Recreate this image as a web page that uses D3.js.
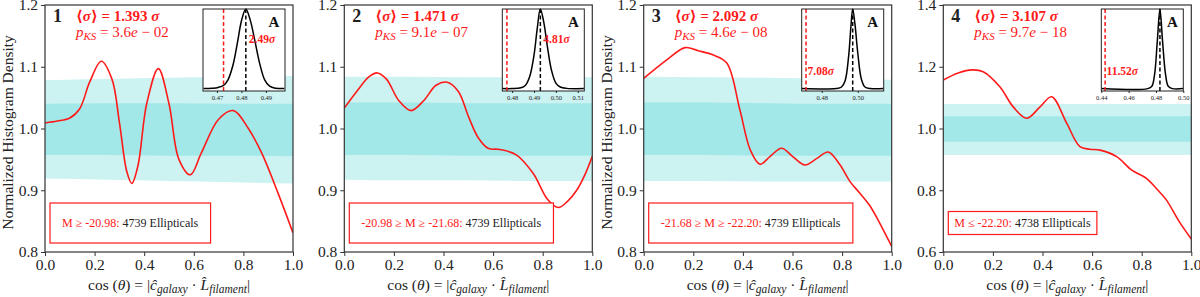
<!DOCTYPE html>
<html>
<head>
<meta charset="utf-8">
<script src="https://cdn.jsdelivr.net/npm/d3@7"></script>
<style>
  body { margin: 0; background: #fff; }
</style>
</head>
<body>
<div id="chart"></div>
<script>
// --- data ---
const panelIds = ["1", "2", "3", "4"];
const meanSigma = ["1.393", "1.471", "2.092", "3.107"];
const pMant = ["3.6", "9.1", "4.6", "9.7"];
const pExp = ["02", "07", "08", "18"];
const magLabels = ["M ≥ -20.98:", "-20.98 ≥ M ≥ -21.68:", "-21.68 ≥ M ≥ -22.20:", "M ≤ -22.20:"];
const counts = [4739, 4739, 4739, 4738];

const xTicks = [0, 0.2, 0.4, 0.6, 0.8, 1.0];
const yDomains = [[0.8, 1.2], [0.8, 1.2], [0.8, 1.2], [0.6, 1.4]];
const yTicks = [
  [0.8, 0.9, 1.0, 1.1, 1.2],
  [0.8, 0.9, 1.0, 1.1, 1.2],
  [0.8, 0.9, 1.0, 1.1, 1.2],
  [0.6, 0.8, 1.0, 1.2, 1.4]
];

// [cos theta, density]
const curve1 = [[0, 1.009], [0.05, 1.012], [0.1, 1.017], [0.14, 1.032], [0.18, 1.075], [0.227, 1.109], [0.27, 1.08],
  [0.30, 1.01], [0.33, 0.93], [0.35, 0.911], [0.375, 0.94], [0.41, 1.04], [0.457, 1.097], [0.50, 1.04], [0.54, 0.95],
  [0.586, 0.925], [0.63, 0.96], [0.70, 1.015], [0.76, 1.029], [0.82, 1.0], [0.874, 0.96], [0.94, 0.895], [1.0, 0.831]];
const curve2 = [[0, 1.033], [0.05, 1.06], [0.1, 1.084], [0.133, 1.09], [0.17, 1.08], [0.22, 1.045], [0.269, 1.029],
  [0.32, 1.045], [0.37, 1.07], [0.415, 1.075], [0.46, 1.06], [0.50, 1.02], [0.54, 0.985], [0.58, 0.968], [0.628, 0.966],
  [0.695, 0.957], [0.762, 0.927], [0.82, 0.885], [0.863, 0.872], [0.90, 0.882], [0.937, 0.90], [0.97, 0.925], [1.0, 0.955]];
const curve3 = [[0, 1.081], [0.093, 1.111], [0.167, 1.131], [0.22, 1.126], [0.281, 1.119], [0.335, 1.106], [0.388, 1.03],
  [0.43, 0.965], [0.469, 0.942], [0.51, 0.955], [0.556, 0.968], [0.60, 0.955], [0.65, 0.941], [0.70, 0.952], [0.744, 0.962],
  [0.79, 0.942], [0.832, 0.914], [0.87, 0.896], [0.91, 0.876], [0.95, 0.848], [1.0, 0.809]];
const curve4 = [[0, 1.157], [0.06, 1.18], [0.118, 1.19], [0.161, 1.184], [0.228, 1.135], [0.282, 1.07], [0.336, 1.033],
  [0.39, 1.07], [0.437, 1.103], [0.497, 1.018], [0.551, 0.941], [0.59, 0.933], [0.632, 0.93], [0.699, 0.909], [0.76, 0.865],
  [0.82, 0.838], [0.86, 0.805], [0.9, 0.768], [0.95, 0.70], [1.0, 0.642]];
const curves = [curve1, curve2, curve3, curve4];

// shaded bands (1 and 2 sigma) at these x positions
const bandX = [0, 0.25, 0.5, 0.75, 1.0];
const lightTop = [[1.078, 1.08, 1.082, 1.084, 1.085], [1.084, 1.084, 1.083, 1.083, 1.083], [1.084, 1.083, 1.082, 1.08, 1.079], [1.079, 1.079, 1.079, 1.079, 1.079]];
const darkTop = [[1.040, 1.041, 1.041, 1.040, 1.040], [1.042, 1.042, 1.041, 1.041, 1.041], [1.042, 1.042, 1.041, 1.040, 1.040], [1.040, 1.040, 1.040, 1.040, 1.040]];
const darkBot = [[0.957, 0.957, 0.956, 0.956, 0.955], [0.957, 0.957, 0.956, 0.956, 0.956], [0.957, 0.957, 0.956, 0.956, 0.956], [0.957, 0.957, 0.957, 0.957, 0.957]];
const lightBot = [[0.919, 0.917, 0.915, 0.913, 0.911], [0.917, 0.916, 0.916, 0.915, 0.915], [0.915, 0.915, 0.914, 0.914, 0.914], [0.914, 0.914, 0.914, 0.914, 0.914]];

// insets
const insetSigma = ["2.49", "4.81", "7.08", "11.52"];
const insetMean = [0.4818, 0.4929, 0.4972, 0.4829];
const insetObs = [0.4727, 0.4776, 0.4713, 0.4428];
const insetDomains = [[0.4643, 0.4978], [0.4755, 0.513], [0.4689, 0.5144], [0.44, 0.50]];
const insetTicks = [[0.47, 0.48, 0.49], [0.48, 0.49, 0.50, 0.51], [0.48, 0.50], [0.44, 0.46, 0.48, 0.50]];
const inset1 = [[0.4645, 0], [0.468, 0.005], [0.4705, 0.015], [0.4727, 0.04], [0.4745, 0.11], [0.4765, 0.29], [0.4785, 0.6],
  [0.480, 0.85], [0.4818, 1.0], [0.4836, 0.86], [0.4855, 0.6], [0.4875, 0.31], [0.4895, 0.11], [0.4915, 0.03], [0.494, 0.005], [0.4975, 0]];
const inset2 = [[0.4755, 0], [0.480, 0], [0.484, 0.01], [0.486, 0.04], [0.488, 0.15], [0.490, 0.42], [0.4915, 0.76],
  [0.4929, 1.0], [0.4945, 0.83], [0.496, 0.55], [0.498, 0.23], [0.500, 0.07], [0.502, 0.02], [0.505, 0.003], [0.5128, 0]];
const inset3 = [[0.469, 0], [0.488, 0], [0.491, 0.02], [0.493, 0.1], [0.495, 0.42], [0.4962, 0.78], [0.4972, 1.0],
  [0.4985, 0.8], [0.500, 0.45], [0.502, 0.12], [0.504, 0.02], [0.507, 0], [0.5142, 0]];
const inset4 = [[0.4402, 0], [0.474, 0], [0.477, 0.03], [0.479, 0.18], [0.481, 0.6], [0.4829, 1.0], [0.4848, 0.6],
  [0.487, 0.18], [0.489, 0.03], [0.492, 0], [0.4998, 0]];
const insetCurves = [inset1, inset2, inset3, inset4];

// --- layout ---
const W = 1200, H = 297;
const FONT = "'Liberation Serif', 'DejaVu Serif', 'Times New Roman', serif";
const plotW = 248, plotH = 247, plotTop = 5;
const lefts = [45, 344.3, 643.7, 943.3];
const sigLabelSide = ["right", "right", "left", "left"];
const legendPad = [[12, 13], [12, 13], [12, 13], [6, 4.5]];
const red = "#ff1a1a";
const lightCol = "#ccf2f2", darkCol = "#a3e8e8";

const svg = d3.select("#chart").append("svg")
  .attr("width", W).attr("height", H)
  .attr("font-family", FONT);

panelIds.forEach((id, i) => {
  const g = svg.append("g").attr("transform", `translate(${lefts[i]},${plotTop})`);
  const x = d3.scaleLinear().domain([0, 1]).range([0, plotW]);
  const y = d3.scaleLinear().domain(yDomains[i]).range([plotH, 0]);

  const clipId = "clip" + i;
  g.append("clipPath").attr("id", clipId).append("rect").attr("width", plotW).attr("height", plotH);
  const inner = g.append("g").attr("clip-path", `url(#${clipId})`);

  const bandRows = bandX.map((bx, k) => ({ x: bx, lt: lightTop[i][k], dt: darkTop[i][k], db: darkBot[i][k], lb: lightBot[i][k] }));
  const area = (a, b) => d3.area().x(d => x(d.x)).y0(d => y(d[a])).y1(d => y(d[b])).curve(d3.curveMonotoneX);
  inner.append("path").datum(bandRows).attr("d", area("lb", "lt")).attr("fill", lightCol);
  inner.append("path").datum(bandRows).attr("d", area("db", "dt")).attr("fill", darkCol);

  inner.append("path").datum(curves[i])
    .attr("d", d3.line().x(d => x(d[0])).y(d => y(d[1])).curve(d3.curveCatmullRom.alpha(0.5)))
    .attr("fill", "none").attr("stroke", red).attr("stroke-width", 1.6);

  // axes
  const xa = g.append("g").attr("transform", `translate(0,${plotH})`)
    .call(d3.axisBottom(x).tickValues(xTicks).tickFormat(d3.format(".1f")).tickSize(4).tickPadding(3));
  const ya = g.append("g")
    .call(d3.axisLeft(y).tickValues(yTicks[i]).tickFormat(d3.format(".1f")).tickSize(4).tickPadding(3));
  [xa, ya].forEach(a => {
    a.attr("font-family", FONT).attr("font-size", 15.5);
    a.select(".domain").remove();
    a.selectAll("line").attr("stroke", "#333");
    a.selectAll("text").attr("fill", "#222");
  });
  g.append("rect").attr("width", plotW).attr("height", plotH)
    .attr("fill", "none").attr("stroke", "#333").attr("stroke-width", 1.2);

  // x label
  const xl = g.append("text").attr("x", plotW / 2).attr("y", 285).attr("text-anchor", "middle")
    .attr("font-size", 15.5).attr("fill", "#222");
  xl.append("tspan").text("cos (");
  xl.append("tspan").attr("font-style", "italic").text("θ");
  xl.append("tspan").text(") = |");
  xl.append("tspan").attr("font-style", "italic").text("ĉ");
  xl.append("tspan").attr("font-style", "italic").attr("font-size", 11.5).attr("dy", 3).text("galaxy");
  xl.append("tspan").attr("dy", -3).text(" · ");
  xl.append("tspan").attr("font-style", "italic").text("L̂");
  xl.append("tspan").attr("font-style", "italic").attr("font-size", 11.5).attr("dy", 3).text("filament");
  xl.append("tspan").attr("dy", -3).text("|");

  if (i === 0 || i === 2) {
    g.append("text").attr("transform", `translate(${-32},${plotH / 2 + 4}) rotate(-90)`)
      .attr("text-anchor", "middle").attr("font-size", 15.5).attr("fill", "#222")
      .text("Normalized Histogram Density");
  }

  // panel number and statistics
  g.append("text").attr("x", 8).attr("y", 17).attr("font-size", 18).attr("font-weight", "bold")
    .attr("fill", "#222").text(id);
  const t1 = g.append("text").attr("x", 31).attr("y", 16).attr("font-size", 15).attr("font-weight", "bold").attr("fill", red);
  t1.append("tspan").text("⟨");
  t1.append("tspan").attr("font-style", "italic").text("σ");
  t1.append("tspan").text("⟩ = " + meanSigma[i] + " ");
  t1.append("tspan").attr("font-style", "italic").text("σ");
  const t2 = g.append("text").attr("x", 31).attr("y", 31.5).attr("font-size", 15).attr("fill", red);
  t2.append("tspan").attr("font-style", "italic").text("p");
  t2.append("tspan").attr("font-style", "italic").attr("font-size", 11).attr("dy", 3).text("KS");
  t2.append("tspan").attr("dy", -3).text(" = " + pMant[i]);
  t2.append("tspan").attr("font-style", "italic").text("e");
  t2.append("tspan").text(" − " + pExp[i]);

  // legend box
  const lg = g.append("g");
  const lt = lg.append("text").attr("x", 5 + legendPad[i][0]).attr("y", 222).attr("font-size", 12);
  lt.append("tspan").attr("fill", red).text(magLabels[i] + " ");
  lt.append("tspan").attr("fill", "#222").text(counts[i] + " Ellipticals");
  const bb = lt.node().getBBox();
  lg.insert("rect", "text")
    .attr("x", bb.x - legendPad[i][0]).attr("y", bb.y - legendPad[i][1])
    .attr("width", bb.width + 2 * legendPad[i][0]).attr("height", bb.height + 2 * legendPad[i][1])
    .attr("fill", "white").attr("stroke", red).attr("stroke-width", 1.2);

  // inset
  const iw = 82, ih = 82;
  const ig = g.append("g").attr("transform", `translate(${plotW - 90},4)`);
  const ix = d3.scaleLinear().domain(insetDomains[i]).range([0, iw]);
  const iy = d3.scaleLinear().domain([-0.03, 1.0]).range([ih, 0]);
  ig.append("rect").attr("width", iw).attr("height", ih).attr("fill", "white");
  ig.append("path").datum(insetCurves[i])
    .attr("d", d3.line().x(d => ix(d[0])).y(d => iy(d[1])).curve(d3.curveCatmullRom.alpha(0.5)))
    .attr("fill", "none").attr("stroke", "#000").attr("stroke-width", 1.5);
  ig.append("line").attr("x1", ix(insetMean[i])).attr("x2", ix(insetMean[i])).attr("y1", 0).attr("y2", ih)
    .attr("stroke", "#000").attr("stroke-width", 1.5).attr("stroke-dasharray", "4,2.5");
  ig.append("line").attr("x1", ix(insetObs[i])).attr("x2", ix(insetObs[i])).attr("y1", 0).attr("y2", ih)
    .attr("stroke", red).attr("stroke-width", 1.5).attr("stroke-dasharray", "4,2.5");
  ig.append("rect").attr("width", iw).attr("height", ih).attr("fill", "none").attr("stroke", "#222").attr("stroke-width", 1);
  const ia = ig.append("g").attr("transform", `translate(0,${ih})`)
    .call(d3.axisBottom(ix).tickValues(insetTicks[i]).tickFormat(d3.format(".2f")).tickSize(2).tickPadding(2));
  ia.attr("font-family", FONT).attr("font-size", 6.5);
  ia.select(".domain").remove();
  ia.selectAll("line").attr("stroke", "#222");
  ia.selectAll("text").attr("fill", "#222");
  ig.append("text").attr("x", iw - 11).attr("y", 18).attr("text-anchor", "middle")
    .attr("font-size", 15).attr("font-weight", "bold").attr("fill", "#111").text("A");
  const sx = sigLabelSide[i] === "right" ? ix(insetMean[i]) + 3 : ix(insetObs[i]) + 1.5;
  const sy = sigLabelSide[i] === "right" ? 33.5 : 66;
  const st = ig.append("text").attr("x", sx).attr("y", sy).attr("font-size", 11.5).attr("font-weight", "bold").attr("fill", red);
  st.append("tspan").text(insetSigma[i]);
  st.append("tspan").attr("font-style", "italic").text("σ");
});
</script>
</body>
</html>
